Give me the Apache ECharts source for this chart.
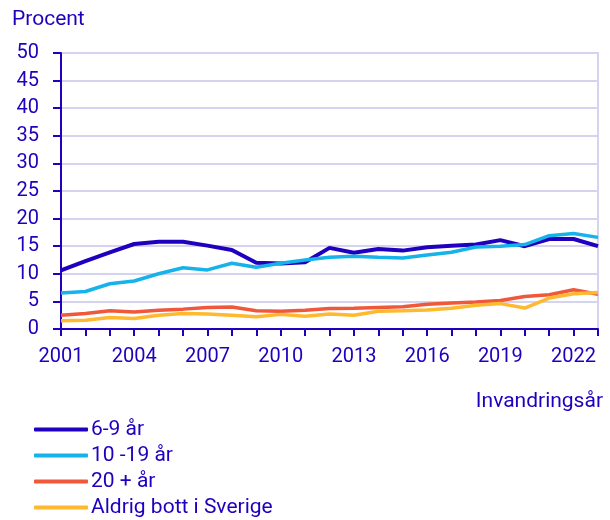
<!DOCTYPE html>
<html>
<head>
<meta charset="utf-8">
<script src="https://cdn.jsdelivr.net/npm/echarts@6/dist/echarts.min.js"></script>
<style>
  html, body { margin: 0; padding: 0; background: #fff; }
  #chart { width: 610px; height: 520px; }
</style>
</head>
<body>
<div id="chart"></div>
<script>
// år och andelar (procent) lästa ur bilden
const years = ['2001','2002','2003','2004','2005','2006','2007','2008','2009','2010','2011','2012',
  '2013','2014','2015','2016','2017','2018','2019','2020','2021','2022','2023'];
const age6to9 = [10.6, 12.3, 13.9, 15.4, 15.8, 15.8, 15.1, 14.3, 12.0, 11.85, 12.1, 14.7,
  13.8, 14.5, 14.2, 14.8, 15.1, 15.3, 16.1, 15.0, 16.3, 16.3, 15.0];
const age10to19 = [6.5, 6.8, 8.2, 8.7, 10.0, 11.1, 10.7, 11.9, 11.2, 11.9, 12.5, 13.0,
  13.2, 13.0, 12.85, 13.4, 13.9, 14.85, 15.0, 15.3, 16.9, 17.3, 16.6];
const age20plus = [2.5, 2.8, 3.3, 3.1, 3.4, 3.6, 3.9, 4.0, 3.3, 3.2, 3.4, 3.7,
  3.75, 3.9, 4.05, 4.5, 4.7, 4.9, 5.15, 5.9, 6.2, 7.1, 6.3];
const neverLived = [1.5, 1.6, 2.1, 1.9, 2.5, 2.8, 2.7, 2.5, 2.2, 2.65, 2.3, 2.7,
  2.5, 3.2, 3.3, 3.45, 3.75, 4.3, 4.6, 3.8, 5.6, 6.4, 6.6];
const seriesNames = ['6-9 år', '10 -19 år', '20 + år', 'Aldrig bott i Sverige'];

const txt = '#1e00be';
const font = 'Roboto';
const colors = ['#1e00be', '#16b2ea', '#f0583b', '#ffb92e'];

const line = (name, data, color, width) => ({
  name, type: 'line', data, symbol: 'none', smooth: false,
  lineStyle: { color, width }, itemStyle: { color }
});

const chart = echarts.init(document.getElementById('chart'));
chart.setOption({
  animation: false,
  textStyle: { fontFamily: font, color: txt },
  grid: {
    left: 61, right: 12, top: 53, bottom: 191,
    show: true, borderColor: '#d4d4f0', borderWidth: 2
  },
  legend: {
    orient: 'vertical', left: 34, top: 419, height: 140, itemGap: 5,
    padding: 0,
    itemWidth: 54, itemHeight: 4,
    icon: 'roundRect',
    textStyle: { color: txt, fontSize: 21, fontFamily: font, padding: [0, 0, 0, -2] },
    data: seriesNames
  },
  graphic: [
    { type: 'text', left: 12, top: 9, style: { text: 'Procent', fill: txt, fontSize: 21, fontFamily: font } },
    { type: 'text', right: 7, top: 391, style: { text: 'Invandringsår', fill: txt, fontSize: 21, fontFamily: font } }
  ],
  xAxis: {
    type: 'category', data: years, boundaryGap: false,
    axisLine: { lineStyle: { color: txt, width: 2 } },
    axisTick: { interval: 0, length: 7, lineStyle: { color: txt, width: 2 } },
    axisLabel: { interval: 2, color: txt, fontSize: 20, fontFamily: font, margin: 18 },
    splitLine: { show: false }
  },
  yAxis: {
    type: 'value', min: 0, max: 50, interval: 5,
    axisLine: { show: true, lineStyle: { color: txt, width: 2 } },
    axisTick: { show: true, length: 8, lineStyle: { color: txt, width: 2 } },
    axisLabel: { color: txt, fontSize: 20, fontFamily: font, margin: 22 },
    splitLine: { lineStyle: { color: '#d4d4f0', width: 2 } }
  },
  series: [
    line(seriesNames[0], age6to9, colors[0], 4),
    line(seriesNames[1], age10to19, colors[1], 3.5),
    line(seriesNames[2], age20plus, colors[2], 3.5),
    line(seriesNames[3], neverLived, colors[3], 3.5)
  ]
});
</script>
</body>
</html>
